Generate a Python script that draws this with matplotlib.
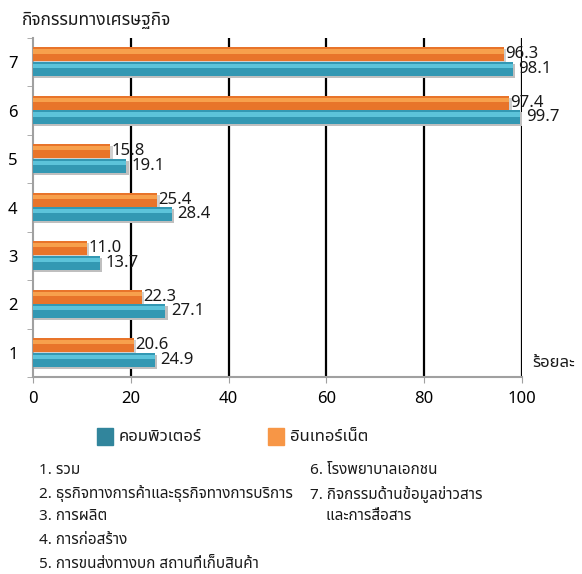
import matplotlib
matplotlib.use('Agg')
import matplotlib.pyplot as plt
import matplotlib.patches as mpatches
from matplotlib import font_manager
from matplotlib.ft2font import FT2Font

categories = ['1', '2', '3', '4', '5', '6', '7']
computer = [24.9, 27.1, 13.7, 28.4, 19.1, 99.7, 98.1]
internet = [20.6, 22.3, 11.0, 25.4, 15.8, 97.4, 96.3]
x_ticks = [0, 20, 40, 60, 80, 100]
legend_names = ['คอมพิวเตอร์', 'อินเทอร์เน็ต']
notes_left = ['1. รวม', '2. ธุรกิจทางการค้าและธุรกิจทางการบริการ', '3. การผลิต',
              '4. การก่อสร้าง', '5. การขนส่งทางบก สถานที่เก็บสินค้า']
notes_right = ['6. โรงพยาบาลเอกชน', '7. กิจกรรมด้านข้อมูลข่าวสาร', '    และการสื่อสาร']
title = 'กิจกรรมทางเศรษฐกิจ'
unit = 'ร้อยละ'


def find_thai_font():
    names = []
    for f in font_manager.fontManager.ttflist:
        try:
            if 0x0E01 in FT2Font(f.fname).get_charmap():
                names.append(f.name)
        except Exception:
            pass
    for pref in ['Noto Sans Thai', 'Noto Sans', 'Tahoma', 'Loma', 'Garuda']:
        if pref in names:
            return pref
    return names[0] if names else 'DejaVu Sans'


thai = find_thai_font()
plt.rcParams['font.family'] = [thai, 'DejaVu Sans']
plt.rcParams['font.size'] = 12
plt.rcParams['text.color'] = '#1A1A1A'

teal = '#3398B3'
teal_hi = '#5CC3DA'
orange = '#E8742A'
orange_hi = '#F7A04C'

fig = plt.figure(figsize=(5.82, 5.74), dpi=100)
ax = fig.add_axes([0.0567, 0.343, 0.840, 0.591])

y = list(range(1, 8))
h = 0.29
y_int = [v + 0.16 for v in y]
y_com = [v - 0.14 for v in y]

# shadows
ax.barh([v - 0.04 for v in y_com], [c + 0.5 for c in computer], height=h, color='#BFBFBF', zorder=2)
ax.barh([v - 0.04 for v in y_int], [c + 0.5 for c in internet], height=h, color='#D0D0D0', zorder=2)

ax.barh(y_int, internet, height=h, color=orange, zorder=3)
ax.barh([v + 0.06 for v in y_int], internet, height=h * 0.3, color=orange_hi, zorder=4)
ax.barh(y_com, computer, height=h, color=teal, zorder=3)
ax.barh([v + 0.06 for v in y_com], computer, height=h * 0.3, color=teal_hi, zorder=4)

for yi, v in zip(y_int, internet):
    ax.annotate(f'{v:.1f}', (v, yi), xytext=(1, 0), textcoords='offset points',
                ha='left', va='center', fontsize=12, zorder=5)
for yi, v in zip(y_com, computer):
    ax.annotate(f'{v:.1f}', (v, yi), xytext=(4, 0), textcoords='offset points',
                ha='left', va='center', fontsize=12, zorder=5)

ax.set_xlim(0, 100)
ax.set_ylim(0.5, 7.5)
ax.set_xticks(x_ticks)
ax.set_xticklabels([str(t) for t in x_ticks], fontsize=12)
ax.set_yticks(y)
ax.set_yticklabels(categories, fontsize=12)
ax.set_yticks([v + 0.5 for v in range(0, 8)], minor=True)
ax.tick_params(axis='y', which='major', length=0, pad=11)
ax.tick_params(axis='y', which='minor', length=4, color='#A0A0A0')
ax.tick_params(axis='x', length=4, color='#A0A0A0', pad=6)

for t in x_ticks[1:]:
    ax.axvline(t, color='black', lw=1.6, zorder=1)

for s in ['top', 'right']:
    ax.spines[s].set_visible(False)
for s in ['left', 'bottom']:
    ax.spines[s].set_color('#A0A0A0')
    ax.spines[s].set_linewidth(1.5)

fig.text(22 / 582, 1 - 20 / 574, title, fontsize=12.5, va='center', ha='left')
fig.text(532 / 582, 1 - 363 / 574, unit, fontsize=12, va='center', ha='left')

# legend
fig.patches.append(mpatches.Rectangle((97 / 582, 1 - 445 / 574), 16 / 582, 17 / 574,
                                      transform=fig.transFigure, color='#31859C'))
fig.text(119 / 582, 1 - 437 / 574, legend_names[0], fontsize=12, va='center', ha='left')
fig.patches.append(mpatches.Rectangle((268 / 582, 1 - 445 / 574), 16 / 582, 17 / 574,
                                      transform=fig.transFigure, color='#F79646'))
fig.text(290 / 582, 1 - 437 / 574, legend_names[1], fontsize=12, va='center', ha='left')

for i, s in enumerate(notes_left):
    fig.text(39 / 582, 1 - (470 + 23.5 * i) / 574, s, fontsize=11, va='center', ha='left')
for i, s in enumerate(notes_right):
    fig.text(310 / 582, 1 - (470 + 23.5 * i) / 574, s, fontsize=11, va='center', ha='left')

fig.savefig('out.png', dpi=100)
